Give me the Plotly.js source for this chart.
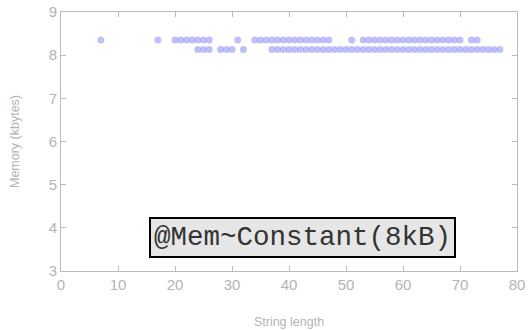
<!DOCTYPE html>
<html>
<head>
<meta charset="utf-8">
<script src="https://cdn.plot.ly/plotly-3.0.1.min.js"></script>
<style>html,body{margin:0;padding:0;background:#fff;}#chart{width:531px;height:330px;}</style>
</head>
<body>
<div id="chart"></div>
<script>
// String lengths with memory ~8.35 kB (upper band)
const upperX = [7, 17, 20, 21, 22, 23, 24, 25, 26, 31, 34, 35, 36, 37, 38, 39, 40, 41, 42, 43, 44, 45, 46, 47, 51, 53, 54, 55, 56, 57, 58, 59, 60, 61, 62, 63, 64, 65, 66, 67, 68, 69, 70, 72, 73];
const upperY = upperX.map(() => 8.35);
// String lengths with memory ~8.13 kB (lower band)
const lowerX = [24, 25, 26, 28, 29, 30, 32, 37, 38, 39, 40, 41, 42, 43, 44, 45, 46, 47, 48, 49, 50, 51, 52, 53, 54, 55, 56, 57, 58, 59, 60, 61, 62, 63, 64, 65, 66, 67, 68, 69, 70, 71, 72, 73, 74, 75, 76, 77];
const lowerY = lowerX.map(() => 8.13);

const xTicks = [0, 10, 20, 30, 40, 50, 60, 70, 80];
const yTicks = [3, 4, 5, 6, 7, 8, 9];
const annotationText = "@Mem~Constant(8kB)";

const marker = {color: 'rgb(150,150,245)', size: 7, opacity: 0.6, line: {width: 0}};

const data = [
  {x: upperX, y: upperY, mode: 'markers', type: 'scatter', marker: marker, hoverinfo: 'none'},
  {x: lowerX, y: lowerY, mode: 'markers', type: 'scatter', marker: marker, hoverinfo: 'none'}
];

const axisCommon = {
  showgrid: false, zeroline: false, showline: true, linecolor: '#bbbbbb', linewidth: 1,
  mirror: 'ticks', ticks: 'inside', ticklen: 5, tickcolor: '#bbbbbb', tickwidth: 1,
  tickfont: {family: 'Liberation Sans, Arial, sans-serif', size: 15, color: '#b4b4b4'}
};

const layout = {
  width: 531, height: 330,
  margin: {l: 61, r: 14, t: 12, b: 59},
  paper_bgcolor: '#ffffff', plot_bgcolor: '#ffffff',
  showlegend: false,
  xaxis: Object.assign({}, axisCommon, {
    range: [0, 80], tickvals: xTicks, ticktext: xTicks.map(String),
    title: {text: 'String length', font: {family: 'Liberation Sans, Arial, sans-serif', size: 12.5, color: '#b4b4b4'}, standoff: 25},
    automargin: false
  }),
  yaxis: Object.assign({}, axisCommon, {
    range: [3, 9], tickvals: yTicks, ticktext: yTicks.map(String),
    title: {text: 'Memory (kbytes)', font: {family: 'Liberation Sans, Arial, sans-serif', size: 12.5, color: '#b4b4b4'}, standoff: 26},
    automargin: false
  }),
  annotations: [{
    x: 42.3, y: 3.77, xref: 'x', yref: 'y', showarrow: false,
    text: annotationText,
    font: {family: 'Liberation Mono, Courier New, monospace', size: 27.5, color: '#333333'},
    bgcolor: '#e6e6e6', bordercolor: '#000000', borderwidth: 2, borderpad: 3
  }]
};

Plotly.newPlot('chart', data, layout, {staticPlot: true, displayModeBar: false});
</script>
</body>
</html>
